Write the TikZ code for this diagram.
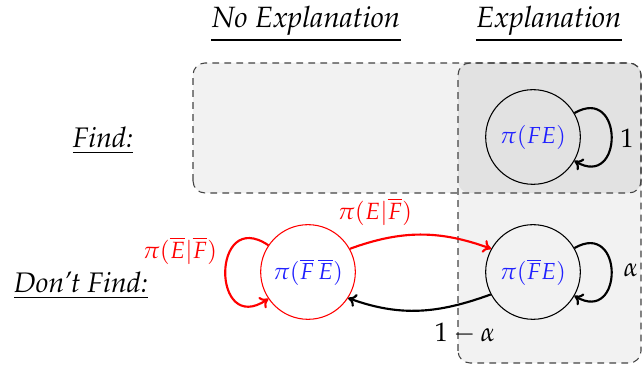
\documentclass[tikz,border=0pt]{standalone}
\usepackage[T1]{fontenc}
\usepackage{mathpazo}
\usetikzlibrary{arrows.meta}
\definecolor{lightbg}{HTML}{F2F2F2}
\definecolor{darkbg}{HTML}{E2E2E2}
\definecolor{dashc}{HTML}{444444}
\definecolor{stateblue}{HTML}{2020FF}
\tikzset{
  region/.style={draw=dashc, dash pattern=on 2.6pt off 1.9pt, line width=0.4pt, rounded corners=4.5pt},
  state/.style={circle, draw, line width=0.4pt, minimum size=35.5pt, inner sep=0pt, text=stateblue, font=\fontsize{8.7}{10}\selectfont},
  arr/.style={-{To[length=3pt,width=5pt]}, line width=0.8pt},
  header/.style={inner xsep=0pt, inner ysep=0pt, font=\fontsize{11}{13}\selectfont\itshape, anchor=base},
  rowlabel/.style={inner sep=0pt, anchor=base, font=\fontsize{10.6}{12}\selectfont},
  redlabel/.style={text=red, font=\fontsize{8.8}{10}\selectfont}
}
\begin{document}
\begin{tikzpicture}[x=0.375pt,y=0.375pt]
\useasboundingbox (0,0) rectangle (642,365);
% regions
\fill[lightbg, rounded corners=4.5pt] (193,172) rectangle (641,302);
\fill[lightbg, rounded corners=4.5pt] (458,2) rectangle (641,302);
\fill[darkbg, rounded corners=4.5pt] (458,172) rectangle (641,302);
\draw[region] (193,172) rectangle (641,302);
\draw[region] (458,2) rectangle (641,302);
% headers
\node[header] (h1) at (306,337) {No Explanation};
\node[header] (h2) at (549,337) {Explanation};
\draw[line width=0.45pt] ([yshift=-4.5pt]h1.base west) -- ([yshift=-4.5pt]h1.base east);
\draw[line width=0.45pt] ([yshift=-4.5pt]h2.base west) -- ([yshift=-4.5pt]h2.base east);
% row labels
\node[rowlabel] (find) at (103,217) {\underline{\textit{Find:}}};
\node[rowlabel] (dfind) at (81,72) {\underline{\textit{Don't Find:}}};
% states
\node[state] (fe) at (533,228) {$\pi(FE)$};
\node[state] (nfe) at (533,93) {$\pi(\overline{F}E)$};
\node[state, draw=red] (nfne) at (308,93) {$\pi(\overline{F}\,\overline{E})$};
% loops
\draw[arr] (fe.30) .. controls +(30:57) and +(-30:57) .. (fe.-30);
\draw[arr] (nfe.30) .. controls +(30:57) and +(-30:57) .. (nfe.-30);
\draw[arr, red] (nfne.146) .. controls +(146:69) and +(-146:69) .. (nfne.-146);
% transitions
\draw[arr, red] (nfne.29) to[out=20,in=160] (nfe.151);
\draw[arr] (nfe.208) to[out=-160,in=-20] (nfne.-33);
% labels
\node (l1) at (627,227) {$1$};
\node (la) at (631,95) {$\alpha$};
\node[redlabel] (lee) at (180,114) {$\pi(\overline{E}|\overline{F})$};
\node[redlabel] (lef) at (375,153) {$\pi(E|\overline{F})$};
\node (lma) at (465,32) {$1-\alpha$};
\end{tikzpicture}
\end{document}
